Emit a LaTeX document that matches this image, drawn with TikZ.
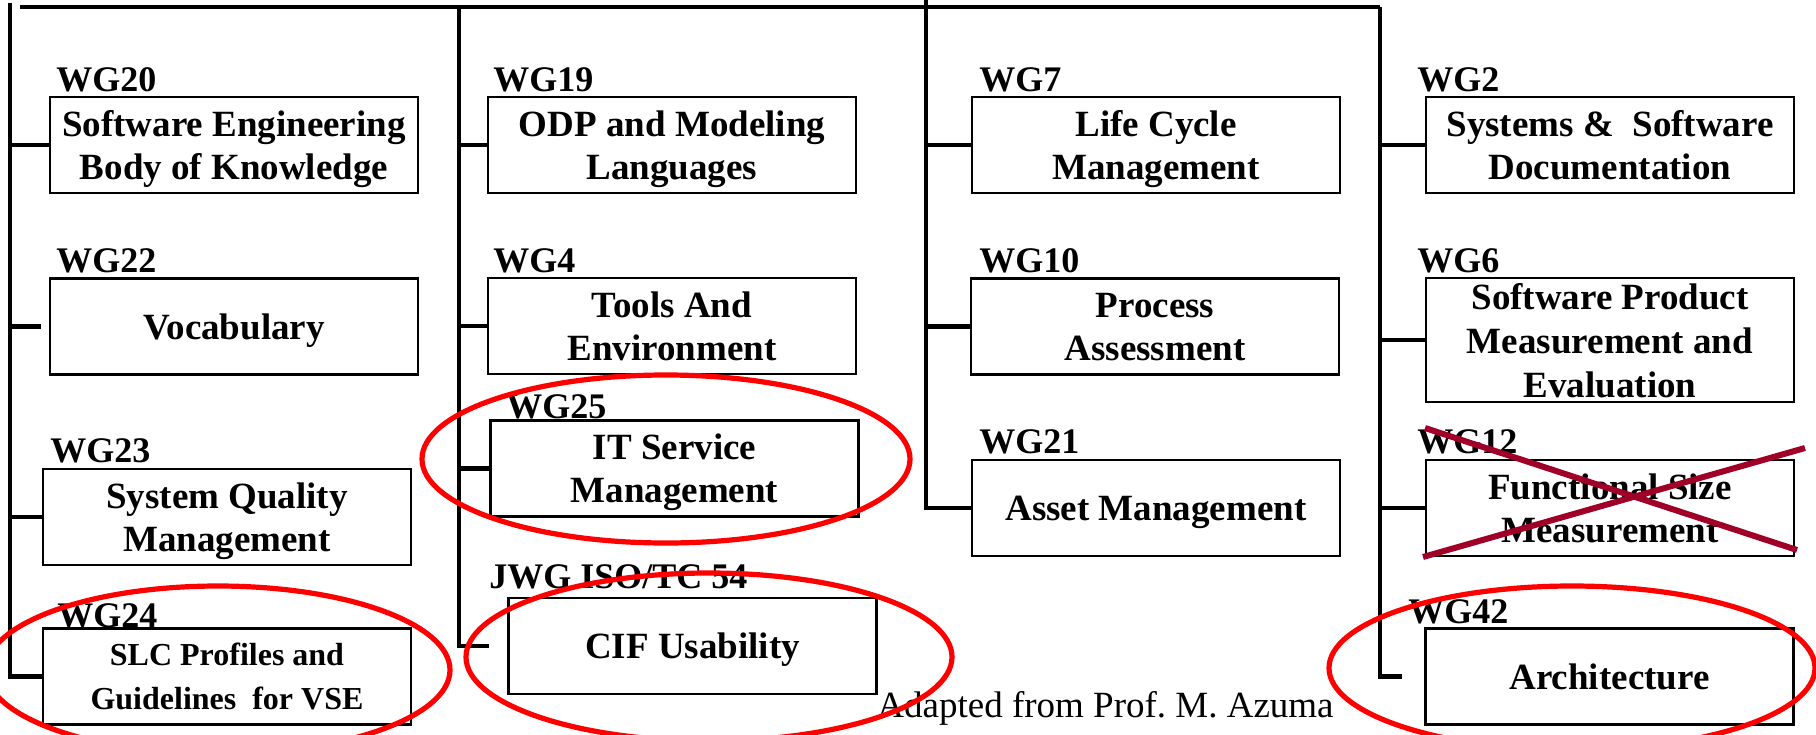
\documentclass[tikz,border=0pt]{standalone}
\usepackage{fontspec}
\setmainfont{Liberation Serif}
\frenchspacing
\definecolor{ringred}{RGB}{255,0,0}
\definecolor{crossred}{RGB}{160,0,40}
\tikzset{
  wgbox/.style={draw=black, line width=1.1pt, inner sep=0pt, align=center,
    minimum width=184pt, minimum height=48pt, text depth=0pt,
    font=\bfseries\fontsize{18.5}{21.5}\selectfont},
  wglab/.style={anchor=base west, inner sep=0pt,
    font=\bfseries\fontsize{18}{20}\selectfont},
  conn/.style={line width=2.3pt, black},
  topline/.style={line width=1.9pt, black},
  ring/.style={draw=ringred, line width=2.6pt},
  strike/.style={draw=crossred, line width=3pt},
}
\begin{document}
\begin{tikzpicture}[x=0.5pt, y=-0.5pt]
\clip (0,0) rectangle (1816,734);
\fill[white] (0,0) rectangle (1816,734);

% boxes
\node[wgbox] (wg20) at (234,145) {Software Engineering\\Body of Knowledge};
\node[wgbox] (wg22) at (234,326.5) {Vocabulary};
\node[wgbox] (wg23) at (227,517) {System Quality\\Management};
\node[wgbox, font=\bfseries\fontsize{16}{22}\selectfont] (wg24) at (227,676.5) {SLC Profiles and\\Guidelines~ for VSE};
\node[wgbox] (wg19) at (672,145) {ODP and Modeling\\Languages};
\node[wgbox] (wg4) at (672,326) {Tools And\\Environment};
\node[wgbox] (wg25) at (674.5,468.5) {IT Service\\Management};
\node[wgbox] (cif) at (692.5,646) {CIF Usability};
\node[wgbox] (wg7) at (1156,145) {Life Cycle\\Management};
\node[wgbox] (wg10) at (1155,326.5) {Process\\Assessment};
\node[wgbox] (wg21) at (1156,508) {Asset Management};
\node[wgbox] (wg2) at (1610,145) {Systems \&~ Software\\Documentation};
\node[wgbox, minimum height=62pt, font=\bfseries\fontsize{18.5}{22}\selectfont] (wg6) at (1610,340) {Software Product\\Measurement and\\Evaluation};
\node[wgbox] (wg12) at (1610,508) {Functional Size\\Measurement};
\node[wgbox] (wg42) at (1609.5,676.5) {Architecture};

% labels
\node[wglab] (l20) at (56,91) {WG20};
\node[wglab] (l22) at (56,272) {WG22};
\node[wglab] (l23) at (50,462) {WG23};
\node[wglab] (l24) at (57,627) {WG24};
\node[wglab] (l19) at (493,91) {WG19};
\node[wglab] (l4) at (493,272) {WG4};
\node[wglab] (l25) at (506,418) {WG25};
\node[wglab] (ljwg) at (489,588) {JWG ISO/TC 54};
\node[wglab] (l7) at (979,91) {WG7};
\node[wglab] (l10) at (979,272) {WG10};
\node[wglab] (l21) at (979,453) {WG21};
\node[wglab] (l2) at (1417,91) {WG2};
\node[wglab] (l6) at (1417,272) {WG6};
\node[wglab] (l12) at (1417,453) {WG12};
\node[wglab] (l42) at (1408,623) {WG42};

\node[anchor=base west, inner sep=0pt, font=\fontsize{18.5}{21}\selectfont] (credit) at (877,717) {Adapted from Prof. M. Azuma};

% tree lines
\coordinate (topL) at (20,7);
\coordinate (topR) at (1380,7);
\coordinate (v1) at (10,3);
\coordinate (v2) at (459,7);
\coordinate (v3) at (926,0);
\draw[topline] (topL) -- (topR);
\draw[conn] (v1) -- (v1 |- wg24.west) -- (wg24.west);
\draw[conn] (v1 |- wg20.west) -- (wg20.west);
\draw[conn, shorten >=4pt] (v1 |- wg22.west) -- (wg22.west);
\draw[conn] (v1 |- wg23.west) -- (wg23.west);

\draw[conn] (v2) -- (v2 |- cif.west) -- ([xshift=-9pt]cif.west);
\draw[conn] (v2 |- wg19.west) -- (wg19.west);
\draw[conn] (v2 |- wg4.west) -- (wg4.west);
\draw[conn] (v2 |- wg25.west) -- (wg25.west);

\draw[conn] (v3) -- (v3 |- wg21.west) -- (wg21.west);
\draw[conn] (v3 |- wg7.west) -- (wg7.west);
\draw[conn] (v3 |- wg10.west) -- (wg10.west);

\draw[conn] (topR) -- (topR |- wg42.west) -- ([xshift=-11pt]wg42.west);
\draw[conn] (topR |- wg2.west) -- (wg2.west);
\draw[conn] (topR |- wg6.west) -- (wg6.west);
\draw[conn] (topR |- wg12.west) -- (wg12.west);

% red rings
\draw[ring] (666,459) ellipse [x radius=122pt, y radius=42pt];
\draw[ring] (218,670) ellipse [x radius=116pt, y radius=42pt];
\draw[ring] (709,657) ellipse [x radius=121.5pt, y radius=42pt];
\draw[ring] (1572,668) ellipse [x radius=121.5pt, y radius=41pt];

% strike-through
\coordinate (x1a) at (1425,428);
\coordinate (x1b) at (1797,550);
\coordinate (x2a) at (1423,557);
\coordinate (x2b) at (1805,448);
\draw[strike] (x1a) -- (x1b);
\draw[strike] (x2a) -- (x2b);
\end{tikzpicture}
\end{document}
